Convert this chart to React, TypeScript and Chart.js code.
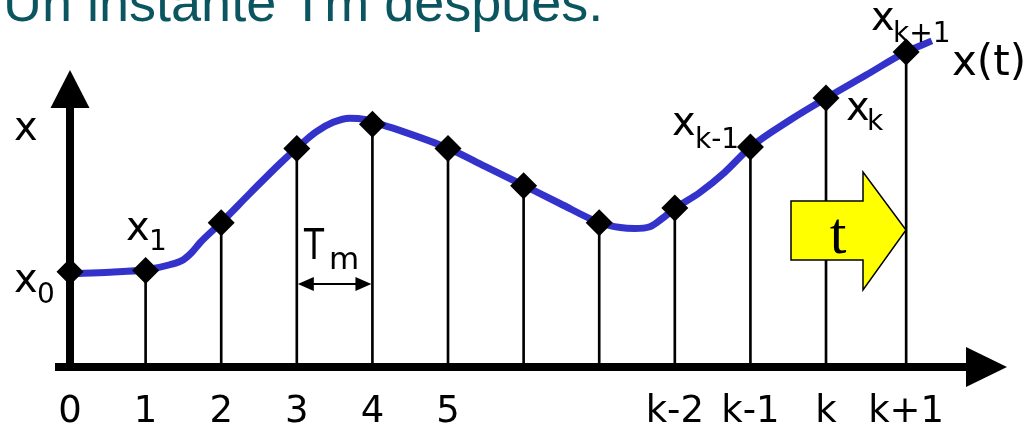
import React, { useEffect, useRef } from 'react';
import { Chart, registerables } from 'chart.js';

Chart.register(...registerables);

// Sample instants (in sampling periods) and sampled values x_k
const sampleT = [0, 1, 2, 3, 4, 5, 6, 7, 8, 9, 10, 11.06];
const sampleX = [3.2, 3.25, 4.85, 7.35, 8.17, 7.35, 6.1, 4.85, 5.35, 7.4, 9.05, 10.6];
const tickLabels = ['0', '1', '2', '3', '4', '5', '', '', 'k-2', 'k-1', 'k', 'k+1'];

// Continuous signal x(t)
const curveT = [0, 0.53, 1.0, 1.32, 1.5, 1.61, 1.72, 2.0, 2.38, 2.78, 3.0, 3.25, 3.48, 3.7, 3.9, 4.0, 4.37, 5.0, 5.49, 6.0, 6.48, 7.0, 7.28, 7.47, 7.67, 7.83, 8.0, 8.33, 8.66, 9.0, 9.52, 10.0, 10.53, 11.06, 11.4];
const curveX = [3.14, 3.19, 3.27, 3.44, 3.61, 3.85, 4.18, 4.86, 5.84, 6.85, 7.36, 7.9, 8.23, 8.37, 8.33, 8.25, 7.95, 7.36, 6.75, 6.11, 5.5, 4.86, 4.69, 4.66, 4.72, 4.99, 5.33, 5.87, 6.55, 7.39, 8.3, 9.04, 9.82, 10.6, 10.97];

const TITLE = 'Un instante Tm después:';
const SANS = '"DejaVu Sans", Verdana, sans-serif';

const arrowAxes = {
  id: 'arrowAxes',
  beforeDatasetsDraw(chart: any) {
    const { ctx, scales } = chart;
    const ox = scales.x.getPixelForValue(0);
    const oy = scales.y.getPixelForValue(0);
    ctx.save();
    ctx.fillStyle = '#000';
    // horizontal time axis with arrow head
    ctx.fillRect(ox - 15, oy - 4, 968 - (ox - 15), 8);
    ctx.beginPath();
    ctx.moveTo(966, oy - 20);
    ctx.lineTo(1007, oy);
    ctx.lineTo(966, oy + 20);
    ctx.closePath();
    ctx.fill();
    // vertical value axis with arrow head
    ctx.fillRect(ox - 4, 106, 8, oy + 4 - 106);
    ctx.beginPath();
    ctx.moveTo(ox - 19.5, 108);
    ctx.lineTo(ox, 70);
    ctx.lineTo(ox + 19.5, 108);
    ctx.closePath();
    ctx.fill();
    ctx.restore();
  },
};

function sub(ctx: CanvasRenderingContext2D, main: string, mx: number, my: number, s: string, sx: number, sy: number, mainSize = 40, subSize = 28) {
  ctx.font = `${mainSize}px ${SANS}`;
  ctx.fillText(main, mx, my);
  ctx.font = `${subSize}px ${SANS}`;
  ctx.fillText(s, sx, sy);
}

const annotations = {
  id: 'annotations',
  afterDatasetsDraw(chart: any) {
    const { ctx, scales } = chart;
    const xs = scales.x;
    const ys = scales.y;
    ctx.save();
    ctx.fillStyle = '#000';
    ctx.textAlign = 'left';
    ctx.textBaseline = 'alphabetic';

    // sampling period marker T_m between samples 3 and 4
    const a = xs.getPixelForValue(sampleT[3]) + 1;
    const b = xs.getPixelForValue(sampleT[4]) - 1;
    const yy = ys.getPixelForValue(2.79);
    ctx.strokeStyle = '#000';
    ctx.lineWidth = 2;
    ctx.beginPath();
    ctx.moveTo(a + 10, yy);
    ctx.lineTo(b - 10, yy);
    ctx.stroke();
    ctx.beginPath();
    ctx.moveTo(a, yy);
    ctx.lineTo(a + 16, yy - 7);
    ctx.lineTo(a + 16, yy + 7);
    ctx.closePath();
    ctx.fill();
    ctx.beginPath();
    ctx.moveTo(b, yy);
    ctx.lineTo(b - 16, yy - 7);
    ctx.lineTo(b - 16, yy + 7);
    ctx.closePath();
    ctx.fill();

    ctx.save();
    ctx.font = `42px ${SANS}`;
    ctx.translate(304, 259);
    ctx.scale(0.78, 1);
    ctx.fillText('T', 0, 0);
    ctx.restore();
    ctx.font = `31px ${SANS}`;
    ctx.fillText('m', 329, 269);

    // axis name and signal labels
    ctx.font = `40px ${SANS}`;
    ctx.fillText('x', 14, 140);
    sub(ctx, 'x', 14, 292, '0', 37, 303);
    sub(ctx, 'x', 126, 240, '1', 149, 250);
    sub(ctx, 'x', 672, 135, 'k-1', 695, 148);
    sub(ctx, 'x', 846, 120, 'k', 867, 130);
    sub(ctx, 'x', 871, 30, 'k+1', 893, 42);
    ctx.font = `42px ${SANS}`;
    ctx.fillText('x(t)', 952, 75);

    // time direction arrow
    ctx.beginPath();
    ctx.moveTo(791, 201);
    ctx.lineTo(863, 201);
    ctx.lineTo(863, 172);
    ctx.lineTo(906, 230);
    ctx.lineTo(863, 290);
    ctx.lineTo(863, 260);
    ctx.lineTo(791, 260);
    ctx.closePath();
    ctx.fillStyle = '#ffff00';
    ctx.fill();
    ctx.lineWidth = 1.5;
    ctx.strokeStyle = '#000';
    ctx.stroke();
    ctx.fillStyle = '#000';
    ctx.font = '60px "Liberation Serif", "Times New Roman", serif';
    ctx.textAlign = 'center';
    ctx.fillText('t', 838, 253);

    // heading
    ctx.textAlign = 'left';
    ctx.fillStyle = '#0b5560';
    ctx.font = '54px "Liberation Sans", Arial, sans-serif';
    ctx.fillText(TITLE, 3, 21);
    ctx.restore();
  },
};

export default function App() {
  const canvasRef = useRef<HTMLCanvasElement | null>(null);

  useEffect(() => {
    const canvas = canvasRef.current;
    if (!canvas) return;
    const samples = sampleT.map((t, i) => ({ x: t, y: sampleX[i] }));
    const curve = curveT.map((t, i) => ({ x: t, y: curveX[i] }));

    const chart = new Chart(canvas, {
      type: 'line',
      data: {
        datasets: [
          {
            type: 'scatter',
            data: samples,
            pointStyle: 'rectRot',
            pointRadius: 13.5,
            pointHoverRadius: 13.5,
            backgroundColor: '#000',
            borderColor: '#000',
            borderWidth: 0,
            showLine: false,
            clip: false,
          } as any,
          {
            type: 'line',
            data: curve,
            borderColor: '#3333cc',
            borderWidth: 7,
            pointRadius: 0,
            cubicInterpolationMode: 'monotone',
            fill: false,
            clip: false,
          } as any,
          {
            type: 'bar',
            data: samples,
            backgroundColor: '#000',
            barThickness: 2,
            clip: false,
          } as any,
        ],
      },
      options: {
        animation: false,
        responsive: false,
        devicePixelRatio: 1,
        events: [],
        layout: { autoPadding: false, padding: { top: 40, left: 0, right: 0, bottom: 0 } },
        plugins: { legend: { display: false }, tooltip: { enabled: false } },
        scales: {
          x: {
            type: 'linear',
            min: -0.926,
            max: 12.632,
            offset: false,
            grid: { display: false, drawTicks: false },
            border: { display: false },
            afterBuildTicks: (axis: any) => {
              axis.ticks = sampleT.map((v) => ({ value: v }));
            },
            afterFit: (axis: any) => {
              axis.height = 61;
            },
            ticks: {
              autoSkip: false,
              maxRotation: 0,
              minRotation: 0,
              padding: 23,
              color: '#000',
              font: { family: SANS, size: 37 },
              callback: (_v: any, i: number) => tickLabels[i],
            },
          },
          y: { type: 'linear', display: false, min: 0, max: 11 },
        },
      } as any,
      plugins: [arrowAxes, annotations],
    });
    return () => chart.destroy();
  }, []);

  return (
    <div style={{ position: 'absolute', left: 0, top: 0, width: 1025, height: 428, background: '#fff' }}>
      <canvas ref={canvasRef} width={1025} height={428} style={{ display: 'block' }} />
    </div>
  );
}
